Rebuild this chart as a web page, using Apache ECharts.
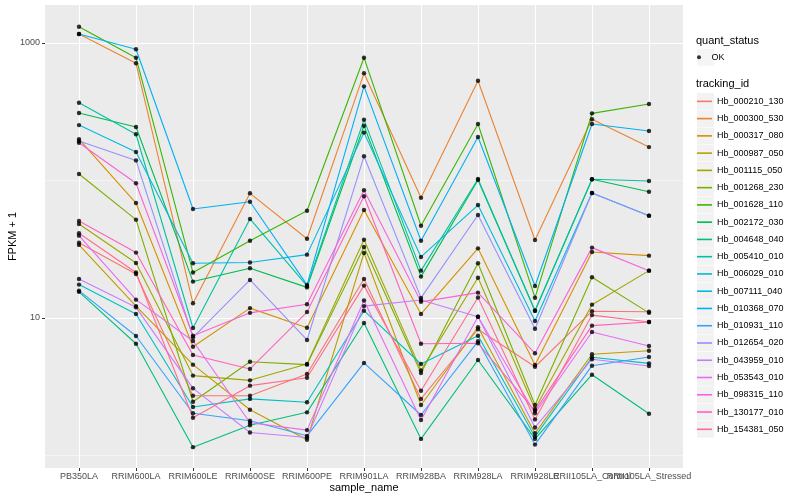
<!DOCTYPE html>
<html>
<head>
<meta charset="utf-8">
<script src="https://cdn.jsdelivr.net/npm/echarts@6/dist/echarts.min.js"></script>
<style>html,body{margin:0;padding:0;background:#fff;}#c{width:800px;height:500px;}</style>
</head>
<body>
<div id="c"></div>
<script>
const categories = ['PB350LA','RRIM600LA','RRIM600LE','RRIM600SE','RRIM600PE','RRIM901LA','RRIM928BA','RRIM928LA','RRIM928LE','RRII105LA_Control','RRII105LA_Stressed'];
const trackingIds = ['Hb_000210_130','Hb_000300_530','Hb_000317_080','Hb_000987_050','Hb_001115_050','Hb_001268_230','Hb_001628_110','Hb_002172_030','Hb_004648_040','Hb_005410_010','Hb_006029_010','Hb_007111_040','Hb_010368_070','Hb_010931_110','Hb_012654_020','Hb_043959_010','Hb_053543_010','Hb_098315_110','Hb_130177_010','Hb_154381_050'];

// FPKM + 1 values per tracking_id, one per sample
const Hb_000210_130 = [35.3, 20.9, 2.72, 2.72, 3.91, 19.2, 2.58, 8.28, 4.42, 11.2, 11.1];
const Hb_000300_530 = [1163, 712, 12.8, 80.7, 37.7, 602, 75.0, 532, 36.9, 279, 175];
const Hb_000317_080 = [200, 68.6, 6.18, 11.8, 8.5, 61.0, 10.7, 32.1, 4.55, 30.2, 28.4];
const Hb_000987_050 = [34.0, 12.2, 4.58, 2.15, 1.30, 29.7, 2.33, 8.56, 1.45, 5.45, 5.78];
const Hb_001115_050 = [48.3, 25.1, 3.81, 3.52, 4.63, 37.1, 4.16, 19.6, 2.18, 12.5, 22.1];
const Hb_001268_230 = [111.5, 51.9, 2.46, 4.81, 4.58, 32.8, 3.98, 25.0, 2.33, 19.8, 10.9];
const Hb_001628_110 = [1314, 782, 21.4, 36.5, 60.3, 782, 46.9, 257.5, 14.05, 308, 360];
const Hb_002172_030 = [310, 245, 18.4, 23.0, 16.7, 250, 20.0, 101, 11.3, 102, 82.9];
const Hb_004648_040 = [15.5, 6.50, 1.15, 1.66, 2.06, 9.2, 1.32, 4.95, 1.32, 3.87, 2.01];
const Hb_005410_010 = [368, 217, 8.46, 52.5, 17.1, 277, 22.1, 102.5, 11.3, 102, 99.2];
const Hb_006029_010 = [17.5, 10.7, 2.25, 2.58, 2.44, 11.3, 4.63, 7.43, 1.37, 5.18, 4.68];
const Hb_007111_040 = [253, 161, 25.0, 25.3, 28.9, 223, 27.8, 66.3, 9.5, 81.1, 55.5];
const Hb_010368_070 = [1163, 900, 62.0, 70.1, 17.4, 484, 36.5, 207, 17.1, 257.5, 229];
const Hb_010931_110 = [15.8, 7.40, 2.03, 1.79, 1.39, 4.71, 1.97, 6.77, 1.20, 4.50, 5.20];
const Hb_012654_020 = [194, 140, 7.24, 18.9, 6.92, 150, 14.0, 56.1, 8.36, 81.1, 55.5];
const Hb_043959_010 = [19.2, 11.96, 3.08, 1.47, 1.35, 12.2, 13.5, 10.2, 1.60, 5.01, 4.48];
const Hb_053543_010 = [39.7, 13.6, 6.80, 1.73, 1.53, 13.4, 1.81, 10.2, 2.03, 7.91, 6.26];
const Hb_098315_110 = [188, 95.4, 7.43, 10.9, 12.6, 84.9, 13.1, 15.3, 5.54, 32.5, 22.1];
const Hb_130177_010 = [50.8, 29.9, 5.38, 4.26, 11.05, 76.8, 6.50, 6.55, 2.11, 8.8, 9.35];
const Hb_154381_050 = [41.3, 21.4, 1.88, 3.22, 3.68, 17.2, 2.96, 14.1, 1.83, 10.5, 9.35];

const seriesValues = [Hb_000210_130, Hb_000300_530, Hb_000317_080, Hb_000987_050, Hb_001115_050, Hb_001268_230, Hb_001628_110, Hb_002172_030, Hb_004648_040, Hb_005410_010, Hb_006029_010, Hb_007111_040, Hb_010368_070, Hb_010931_110, Hb_012654_020, Hb_043959_010, Hb_053543_010, Hb_098315_110, Hb_130177_010, Hb_154381_050];

const yMajorTicks = [10, 1000];
const yMinorTicks = [1, 100];
const yRange = [0.811, 1890];

const colors = ['#F8766D','#EA8331','#D89000','#C09B00','#A3A500','#7CAE00','#39B600','#00BB4E','#00BF7D','#00C1A3','#00BFC4','#00BAE0','#00B0F6','#35A2FF','#9590FF','#C77CFF','#E76BF3','#FA62DB','#FF62BC','#FF6C91'];

const FONT = '"Liberation Sans", Arial, Helvetica, sans-serif';

const lineSeries = trackingIds.map((id, i) => ({
  name: id,
  type: 'line',
  xAxisIndex: 1,
  yAxisIndex: 2,
  data: seriesValues[i],
  symbol: 'none',
  color: colors[i],
  lineStyle: { width: 1.1, color: colors[i] },
  emphasis: { disabled: true },
  z: 2
}));

const okPoints = [];
seriesValues.forEach(arr => arr.forEach((v, j) => okPoints.push([j, v])));

const pointSeries = {
  name: 'OK',
  type: 'scatter',
  xAxisIndex: 1,
  yAxisIndex: 2,
  data: okPoints,
  symbol: 'circle',
  symbolSize: 4.4,
  itemStyle: { color: '#000' },
  emphasis: { disabled: true },
  z: 3
};

const chart = echarts.init(document.getElementById('c'), null, { renderer: 'canvas' });
chart.setOption({
  animation: false,
  backgroundColor: '#fff',
  textStyle: { fontFamily: FONT },
  title: [
    { text: 'quant_status', left: 696, top: 34, padding: 0, textStyle: { fontSize: 11, fontWeight: 'normal', color: '#000', fontFamily: FONT, lineHeight: 13 } },
    { text: 'tracking_id', left: 696, top: 77.5, padding: 0, textStyle: { fontSize: 11, fontWeight: 'normal', color: '#000', fontFamily: FONT, lineHeight: 13 } }
  ],
  grid: [
    { left: 45, right: 117, top: 5, bottom: 32, show: true, backgroundColor: '#EBEBEB', borderWidth: 0, containLabel: false, outerBoundsMode: 'none' },
    { left: 79, right: 151, top: 5, bottom: 32, show: false, containLabel: false, outerBoundsMode: 'none' }
  ],
  xAxis: [
    { gridIndex: 0, type: 'value', min: 0, max: 1, show: false },
    {
      gridIndex: 1, type: 'category', data: categories, boundaryGap: false,
      name: 'sample_name', nameLocation: 'middle', nameGap: 13.5, nameMoveOverlap: false,
      nameTextStyle: { fontSize: 11, color: '#000', fontFamily: FONT, lineHeight: 13 },
      axisLine: { show: false },
      axisTick: { show: true, interval: 0, length: 3, lineStyle: { color: '#333', width: 1 } },
      axisLabel: { interval: 0, fontSize: 9, color: '#4D4D4D', margin: 4.5, fontFamily: FONT },
      splitLine: { show: true, interval: 0, lineStyle: { color: '#fff', width: 1.1 } }
    }
  ],
  yAxis: [
    {
      gridIndex: 0, type: 'log', logBase: 10, min: yRange[0], max: yRange[1],
      name: 'FPKM + 1', nameLocation: 'middle', nameGap: 27, nameMoveOverlap: false,
      nameTextStyle: { fontSize: 11, color: '#000', fontFamily: FONT },
      axisLine: { show: false },
      axisTick: { show: true, length: 3, customValues: yMajorTicks, lineStyle: { color: '#333', width: 1 } },
      axisLabel: { show: true, customValues: yMajorTicks, fontSize: 9, color: '#4D4D4D', margin: 5, fontFamily: FONT, formatter: v => String(Math.round(v)) },
      splitLine: { show: true, lineStyle: { color: '#fff', width: 1.1 } }
    },
    {
      gridIndex: 0, type: 'log', logBase: 10, min: yRange[0], max: yRange[1],
      axisLine: { show: false },
      axisTick: { show: false, customValues: yMinorTicks },
      axisLabel: { show: false, customValues: yMinorTicks },
      splitLine: { show: true, lineStyle: { color: '#F7F7F7', width: 0.8 } }
    },
    { gridIndex: 1, type: 'log', logBase: 10, min: yRange[0], max: yRange[1], show: false, splitLine: { show: false } }
  ],
  legend: [
    {
      data: ['OK'], left: 697, top: 49, padding: 0, orient: 'vertical',
      icon: 'rect', itemWidth: 17, itemHeight: 16.7, itemGap: 0,
      itemStyle: { color: '#F2F2F2', borderWidth: 0 },
      formatter: () => '', selectedMode: false, z: 1
    },
    {
      data: [{ name: 'OK', icon: 'circle' }], left: 697, top: 49, padding: 0, orient: 'vertical',
      itemWidth: 15, itemHeight: 4, itemGap: 0,
      itemStyle: { color: '#000', borderWidth: 0 },
      textStyle: { fontSize: 9, color: '#000', fontFamily: FONT, lineHeight: 16.7 },
      selectedMode: false, z: 2
    },
    {
      data: trackingIds, left: 697, top: 93, padding: 0, orient: 'vertical',
      icon: 'rect', itemWidth: 17, itemHeight: 16.7, itemGap: 0.56,
      itemStyle: { color: '#F2F2F2', borderWidth: 0 }, lineStyle: { width: 0 },
      formatter: () => '', selectedMode: false, z: 1
    },
    {
      data: trackingIds, left: 697, top: 93, padding: 0, orient: 'vertical',
      icon: 'rect', itemWidth: 15, itemHeight: 1.6, itemGap: 0.56,
      itemStyle: { borderWidth: 0 },
      textStyle: { fontSize: 9, color: '#000', fontFamily: FONT, lineHeight: 16.7 },
      selectedMode: false, z: 2
    }
  ],
  series: lineSeries.concat([pointSeries])
});
</script>
</body>
</html>
